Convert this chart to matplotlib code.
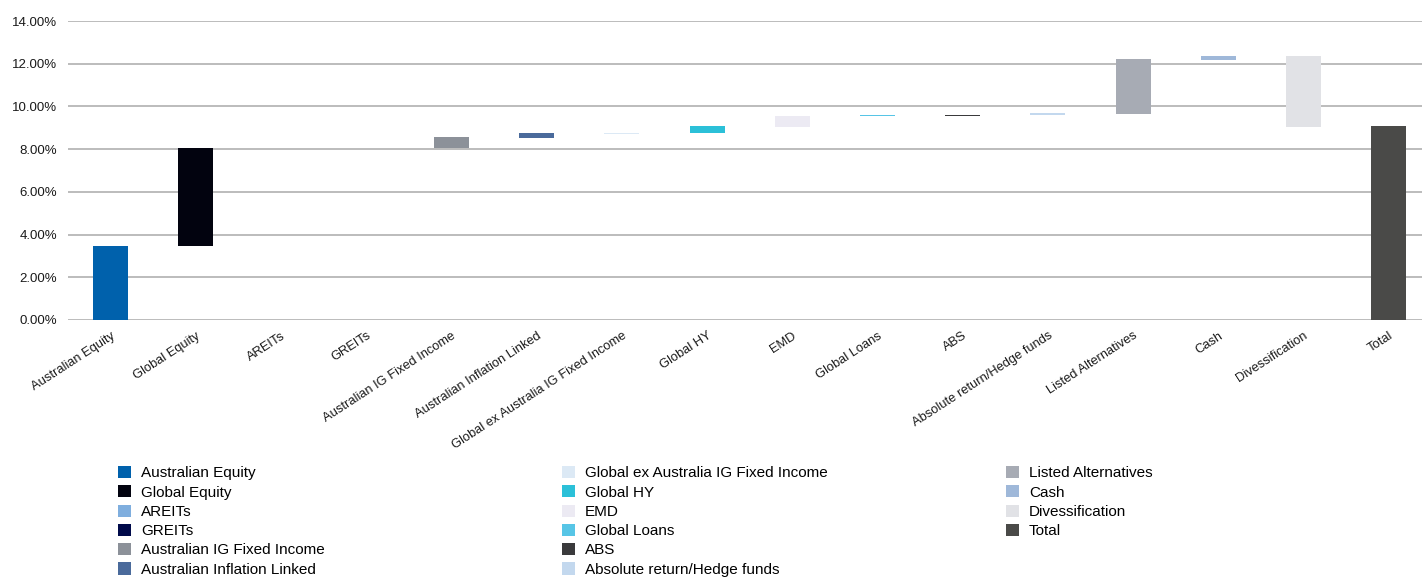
import matplotlib.pyplot as plt
from matplotlib.patches import Patch
from matplotlib.ticker import FuncFormatter

plt.rcParams['font.family'] = ['Liberation Sans', 'DejaVu Sans']

categories = [
    "Australian Equity", "Global Equity", "AREITs", "GREITs",
    "Australian IG Fixed Income", "Australian Inflation Linked",
    "Global ex Australia IG Fixed Income", "Global HY", "EMD",
    "Global Loans", "ABS", "Absolute return/Hedge funds",
    "Listed Alternatives", "Cash", "Divessification", "Total",
]

# waterfall: start and end level of each bar (%)
bar_start = [0.00, 3.47, 8.07, 8.07, 8.07, 8.54, 8.73, 8.77, 9.05, 9.57, 9.57, 9.60, 9.64, 12.17, 9.05, 0.00]
bar_end   = [3.47, 8.07, 8.07, 8.07, 8.57, 8.75, 8.76, 9.08, 9.55, 9.60, 9.59, 9.67, 12.22, 12.36, 12.36, 9.08]

colors = [
    "#0061ac", "#02030f", "#7faede", "#000a4a", "#8c9199", "#4a6a9b",
    "#dce9f5", "#2bc0d8", "#eceaf3", "#57c5e6", "#3a3a3c", "#c3d8ee",
    "#a7abb4", "#9fb8d9", "#e1e2e6", "#4a4a48",
]

W, H = 1422, 580
fig = plt.figure(figsize=(W / 100, H / 100), dpi=100)
ax = fig.add_axes([68 / W, 1 - 320 / H, 1 - 68 / W, (320 - 21) / H])

x = list(range(len(categories)))
lows = [min(a, b) for a, b in zip(bar_start, bar_end)]
heights = [abs(b - a) for a, b in zip(bar_start, bar_end)]
ax.bar(x, heights, bottom=lows, width=0.41, color=colors, zorder=3)

ax.set_xlim(-0.5, 15.39)
ax.set_ylim(0, 14)
ax.set_yticks(range(0, 15, 2))
ax.yaxis.set_major_formatter(FuncFormatter(lambda v, p: f"{v:.2f}%"))
ax.grid(axis='y', color='#b0b0b0', lw=1.2, zorder=0)
ax.set_axisbelow(True)
for s in ax.spines.values():
    s.set_visible(False)

ax.tick_params(axis='y', length=0, pad=8, labelsize=9.5, labelcolor='#1a1a1a')
ax.tick_params(axis='x', length=0, pad=7, labelsize=9.3, labelcolor='#1a1a1a')
ax.set_xticks(x)
ax.set_xticklabels(categories, rotation=33, ha='right', va='top', rotation_mode='anchor')

# legend: three fixed-pitch columns of up to six rows
handles = [Patch(facecolor=c, edgecolor='none', label=n) for c, n in zip(colors, categories)]
col_x = [118, 562, 1006]
for i, cx in enumerate(col_x):
    fig.legend(handles=handles[i * 6:(i + 1) * 6], loc='upper left',
               bbox_to_anchor=(cx / W, 1 - 466 / H), frameon=False,
               fontsize=11, borderpad=0, borderaxespad=0, labelspacing=0.32,
               handlelength=0.85, handleheight=0.85, handletextpad=0.65)

fig.savefig("out.png", dpi=100)
